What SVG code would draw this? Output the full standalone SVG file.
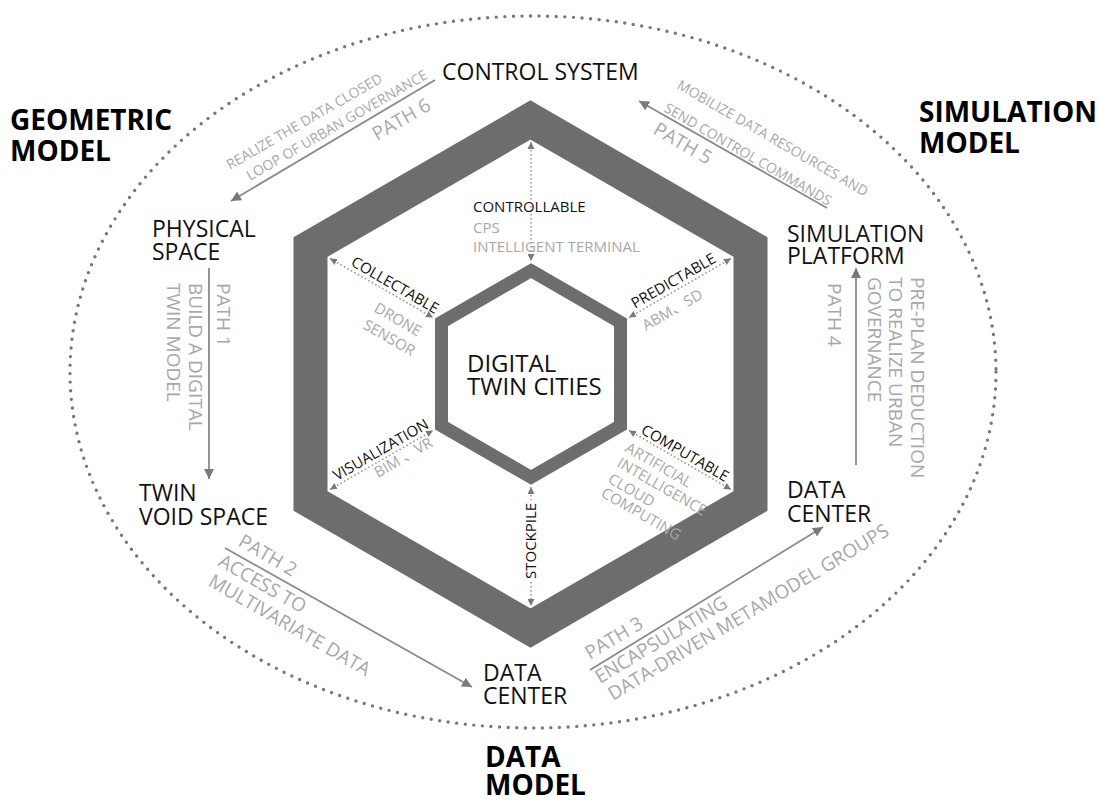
<svg xmlns="http://www.w3.org/2000/svg" width="1099" height="803" viewBox="0 0 1099 803">
  <defs>
    <style>
      text { font-family: "Open Sans", "Noto Sans CJK SC", sans-serif; }
      .node { font-size: 23px; fill: #111; }
      .model { font-size: 28px; font-weight: 700; fill: #000; }
      .pathtxt { font-size: 19px; fill: #a8a8a8; }
      .note { font-size: 14px; fill: #a8a8a8; }
      .key { font-size: 15px; fill: #111; }
      .sub { font-size: 15px; fill: #a8a8a8; }
      .core { font-size: 24px; fill: #111; }
      .flow { stroke: #8a8a8a; stroke-width: 1.8; fill: none; marker-end: url(#head); }
      .link { stroke: #9a9a9a; stroke-width: 1.6; stroke-dasharray: 1.6 2.4; fill: none; }
      .both { marker-start: url(#tip); marker-end: url(#tip); }
      .ring { fill: none; stroke: #6d6d6d; stroke-linejoin: miter; }
    </style>
    <marker id="head" viewBox="0 0 10 10" refX="10" refY="5" markerWidth="10" markerHeight="10" markerUnits="userSpaceOnUse" orient="auto-start-reverse">
      <path d="M0,0 L10,5 L0,10 z" fill="#7a7a7a"/>
    </marker>
    <marker id="tip" viewBox="0 0 10 10" refX="10" refY="5" markerWidth="7" markerHeight="7" markerUnits="userSpaceOnUse" orient="auto-start-reverse">
      <path d="M0,0 L10,5 L0,10 z" fill="#7a7a7a"/>
    </marker>
  </defs>

  <rect width="1099" height="803" fill="#fff"/>

  <!-- dotted boundary of the three models -->
  <ellipse cx="533" cy="372" rx="463" ry="356" fill="none" stroke="#777" stroke-width="3.4" stroke-linecap="round" stroke-dasharray="0 8.6"/>

  <!-- model captions -->
  <g id="geometric-model">
    <text class="model" x="10" y="130">GEOMETRIC</text>
    <text class="model" x="10" y="161">MODEL</text>
  </g>
  <g id="simulation-model">
    <text class="model" x="919" y="122">SIMULATION</text>
    <text class="model" x="919" y="153">MODEL</text>
  </g>
  <g id="data-model">
    <text class="model" x="485" y="767">DATA</text>
    <text class="model" x="485" y="795">MODEL</text>
  </g>

  <!-- hexagon frames -->
  <g id="outer-hexagon">
    <polygon class="ring" stroke-width="34" points="530.5,120 750.5,247 750.5,501 530.5,628 310.5,501 310.5,247"/>
  </g>
  <g id="digital-twin-cities">
    <polygon class="ring" stroke-width="13" points="531,270.7 620.5,322.3 620.5,425.7 531,477.3 441.5,425.7 441.5,322.3"/>
    <text class="core" x="467" y="372">DIGITAL</text>
    <text class="core" x="467" y="395">TWIN CITIES</text>
  </g>

  <!-- connectors -->
  <g id="connectors">
    <path class="flow" d="M209,268 L209,479"/>
    <path class="flow" d="M225,548 L472,687"/>
    <path class="flow" d="M590,670 L823,527"/>
    <path class="flow" d="M856,465 L856,268"/>
    <path class="flow" d="M827,208 L639,101"/>
    <path class="flow" d="M435,80 L231,201"/>

    <path class="link both" d="M531,142 L531,261"/>
    <path class="link both" d="M330,258.5 L433,317.5"/>
    <path class="link both" d="M731,258.5 L629,317.5"/>
    <path class="link both" d="M330,489.5 L433,430.5"/>
    <path class="link both" d="M629,430.5 L731,489.5"/>
    <path class="link" d="M531,487 L531,500" marker-start="url(#tip)"/>
    <path class="link" d="M531,582 L531,606" marker-end="url(#tip)"/>
  </g>

  <!-- nodes on the loop -->
  <g id="control-system">
    <text class="node" x="442" y="80">CONTROL SYSTEM</text>
  </g>
  <g id="physical-space">
    <text class="node" x="152" y="237">PHYSICAL</text>
    <text class="node" x="152" y="260">SPACE</text>
  </g>
  <g id="twin-void-space">
    <text class="node" x="139" y="501">TWIN</text>
    <text class="node" x="139" y="525">VOID SPACE</text>
  </g>
  <g id="data-center-bottom">
    <text class="node" x="483" y="681">DATA</text>
    <text class="node" x="483" y="704">CENTER</text>
  </g>
  <g id="data-center-right">
    <text class="node" x="787" y="498">DATA</text>
    <text class="node" x="787" y="522">CENTER</text>
  </g>
  <g id="simulation-platform">
    <text class="node" x="787" y="242">SIMULATION</text>
    <text class="node" x="787" y="264">PLATFORM</text>
  </g>

  <!-- path captions -->
  <g id="path-1">
    <text class="pathtxt" transform="translate(217 283) rotate(90)">PATH 1</text>
    <text class="pathtxt" transform="translate(189 283) rotate(90)">BUILD A DIGITAL</text>
    <text class="pathtxt" transform="translate(167 283) rotate(90)">TWIN MODEL</text>
  </g>
  <g id="path-2">
    <text class="pathtxt" transform="translate(237 545) rotate(30)">PATH 2</text>
    <text class="pathtxt" transform="translate(217 565) rotate(30)">ACCESS TO</text>
    <text class="pathtxt" transform="translate(207 585) rotate(30)">MULTIVARIATE DATA</text>
  </g>
  <g id="path-3">
    <text class="pathtxt" transform="translate(590 660) rotate(-31)">PATH 3</text>
    <text class="pathtxt" transform="translate(600 684) rotate(-31)">ENCAPSULATING</text>
    <text class="pathtxt" transform="translate(613 701) rotate(-31)">DATA-DRIVEN METAMODEL GROUPS</text>
  </g>
  <g id="path-4">
    <text class="pathtxt" transform="translate(828 283) rotate(90)">PATH 4</text>
    <text class="pathtxt" transform="translate(911 277) rotate(90)">PRE-PLAN DEDUCTION</text>
    <text class="pathtxt" transform="translate(889 277) rotate(90)">TO REALIZE URBAN</text>
    <text class="pathtxt" transform="translate(868 277) rotate(90)">GOVERNANCE</text>
  </g>
  <g id="path-5">
    <text class="note" transform="translate(676 88) rotate(30)">MOBILIZE DATA RESOURCES AND</text>
    <text class="note" transform="translate(663 111) rotate(30)">SEND CONTROL COMMANDS</text>
    <text class="pathtxt" transform="translate(652 133) rotate(30)">PATH 5</text>
  </g>
  <g id="path-6">
    <text class="note" transform="translate(230 170) rotate(-30)">REALIZE THE DATA CLOSED</text>
    <text class="note" transform="translate(250 181) rotate(-30)">LOOP OF URBAN GOVERNANCE</text>
    <text class="pathtxt" transform="translate(377 141) rotate(-30)">PATH 6</text>
  </g>

  <!-- capabilities between the frames -->
  <g id="controllable">
    <text class="key" x="473" y="212">CONTROLLABLE</text>
    <text class="sub" x="473" y="233">CPS</text>
    <text class="sub" x="473" y="252">INTELLIGENT TERMINAL</text>
  </g>
  <g id="collectable">
    <text class="key" transform="translate(350 265) rotate(30)">COLLECTABLE</text>
    <text class="sub" transform="translate(373 311) rotate(30)">DRONE</text>
    <text class="sub" transform="translate(362 328) rotate(30)">SENSOR</text>
  </g>
  <g id="predictable">
    <text class="key" transform="translate(635 309) rotate(-30)">PREDICTABLE</text>
    <text class="sub" transform="translate(646 331) rotate(-30)">ABM、SD</text>
  </g>
  <g id="visualization">
    <text class="key" transform="translate(337 481) rotate(-30)">VISUALIZATION</text>
    <text class="sub" transform="translate(378 478) rotate(-30)">BIM 、VR</text>
  </g>
  <g id="computable">
    <text class="key" transform="translate(640 433) rotate(30)">COMPUTABLE</text>
    <text class="sub" transform="translate(624 451) rotate(30)">ARTIFICIAL</text>
    <text class="sub" transform="translate(616 466) rotate(30)">INTELLIGENCE</text>
    <text class="sub" transform="translate(607 482) rotate(30)">CLOUD</text>
    <text class="sub" transform="translate(600 496) rotate(30)">COMPUTING</text>
  </g>
  <g id="stockpile">
    <text class="key" transform="translate(536 579) rotate(-90)">STOCKPILE</text>
  </g>
</svg>
